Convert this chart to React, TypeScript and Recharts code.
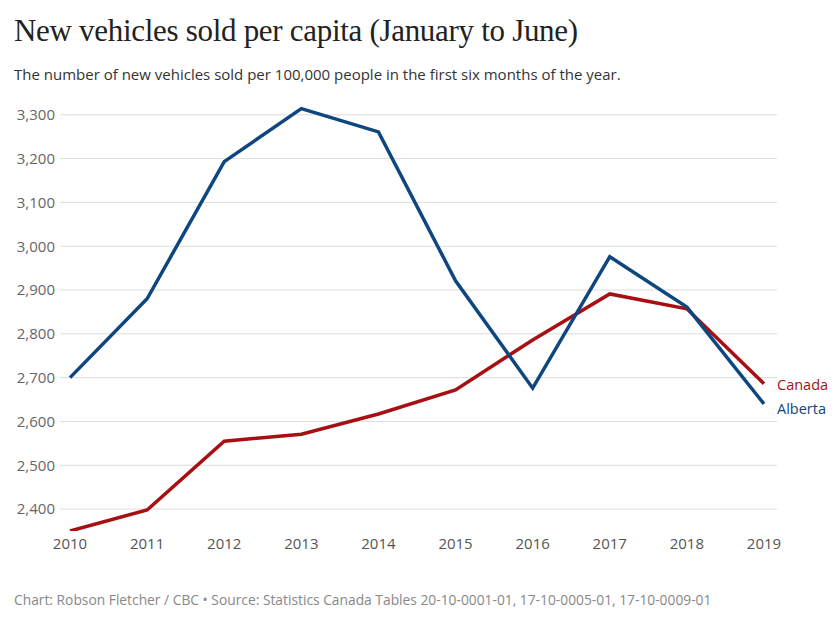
import React from "react";
import { LineChart, Line, XAxis, YAxis, CartesianGrid } from "recharts";

const years = ["2010", "2011", "2012", "2013", "2014", "2015", "2016", "2017", "2018", "2019"];
const alberta = [2700, 2880, 3193, 3314, 3261, 2921, 2676, 2976, 2861, 2640];
const canada = [2350, 2398, 2555, 2571, 2617, 2672, 2786, 2891, 2857, 2686];
const yTicks = [2400, 2500, 2600, 2700, 2800, 2900, 3000, 3100, 3200, 3300];

const data = years.map((year, i) => ({ year, alberta: alberta[i], canada: canada[i] }));

const BLUE = "#0e4680";
const RED = "#a70f12";
const FONT = "'Open Sans', sans-serif";

const fmt = (v: number) => v.toLocaleString("en-US");

function EndLabel(props: any) {
  const { x, y, index, name, color, dy } = props;
  if (index !== years.length - 1) return null;
  return (
    <text x={x + 13} y={y + dy} fill={color} fontSize={14.5} fontFamily={FONT} dominantBaseline="middle">
      {name}
    </text>
  );
}

export default function App() {
  return (
    <div style={{ position: "absolute", left: 0, top: 0, width: 840, height: 625, background: "#fff" }}>
      <div
        style={{
          position: "absolute",
          left: 14,
          top: 13,
          fontFamily: "'Liberation Serif', serif",
          fontSize: 31,
          letterSpacing: -0.3,
          color: "#222",
          whiteSpace: "nowrap",
        }}
      >
        New vehicles sold per capita (January to June)
      </div>
      <div
        style={{
          position: "absolute",
          left: 14,
          top: 64,
          fontFamily: FONT,
          fontSize: 15,
          color: "#333",
          whiteSpace: "nowrap",
        }}
      >
        The number of new vehicles sold per 100,000 people in the first six months of the year.
      </div>
      <div style={{ position: "absolute", left: 0, top: 0 }}>
        <LineChart width={840} height={625} data={data} margin={{ top: 106, right: 63, bottom: 64, left: 14 }}>
          <CartesianGrid vertical={false} stroke="#dcdcdc" horizontalValues={yTicks} />
          <XAxis
            dataKey="year"
            axisLine={false}
            tickLine={false}
            tickSize={0}
            tickMargin={7}
            padding={{ left: 10, right: 13 }}
            tick={{ fill: "#555", fontSize: 15, fontFamily: FONT }}
            interval={0}
            height={30}
          />
          <YAxis
            domain={[2350, 3320]}
            ticks={yTicks}
            allowDataOverflow
            axisLine={false}
            tickLine={false}
            tickSize={0}
            tickMargin={5}
            width={46}
            tickFormatter={fmt}
            tick={{ fill: "#666", fontSize: 15, fontFamily: FONT }}
          />
          <Line
            type="linear"
            dataKey="canada"
            stroke={RED}
            strokeWidth={3.5}
            dot={false}
            isAnimationActive={false}
            label={<EndLabel name="Canada" color={RED} dy={2} />}
          />
          <Line
            type="linear"
            dataKey="alberta"
            stroke={BLUE}
            strokeWidth={3.5}
            dot={false}
            isAnimationActive={false}
            label={<EndLabel name="Alberta" color={BLUE} dy={6} />}
          />
        </LineChart>
      </div>
      <div
        style={{
          position: "absolute",
          left: 14,
          top: 590,
          fontFamily: FONT,
          fontSize: 13.8,
          color: "#888",
          whiteSpace: "nowrap",
        }}
      >
        Chart: Robson Fletcher / CBC • Source: Statistics Canada Tables 20-10-0001-01, 17-10-0005-01, 17-10-0009-01
      </div>
    </div>
  );
}
